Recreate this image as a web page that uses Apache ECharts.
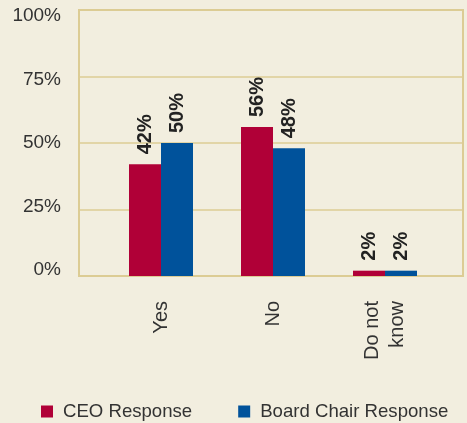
<!DOCTYPE html>
<html>
<head>
<meta charset="utf-8">
<script src="https://cdn.jsdelivr.net/npm/echarts@6/dist/echarts.min.js"></script>
<style>
  html, body { margin: 0; padding: 0; background: #f2eedf; }
  #main { width: 467px; height: 423px; }
</style>
</head>
<body>
<div id="main"></div>
<script>
var categories = ['Yes', 'No', 'Do not\nknow'];
var ceoValues = [42, 56, 2];
var boardValues = [50, 48, 2];
var yTicks = [0, 25, 50, 75, 100];

var font = 'Liberation Sans, Arial, sans-serif';
var frameColor = '#dccc94';

var myChart = echarts.init(document.getElementById('main'));

var barLabel = {
  show: true,
  position: 'top',
  distance: 10,
  rotate: 90,
  align: 'left',
  verticalAlign: 'middle',
  fontFamily: font,
  fontSize: 20,
  fontWeight: 'bold',
  color: '#222',
  formatter: '{c}%'
};

var option = {
  backgroundColor: '#f2eedf',
  animation: false,
  grid: [
    // frame with gridlines
    { left: 79, right: 4, top: 10, bottom: 147, show: true, borderColor: frameColor, borderWidth: 2, backgroundColor: 'transparent' },
    // bars
    { left: 105, right: 26, top: 10, bottom: 147 },
    // y tick labels
    { left: 79, right: 4, top: 16, bottom: 153 }
  ],
  legend: {
    left: 36,
    top: 397,
    itemWidth: 12,
    itemHeight: 12,
    itemGap: 46,
    icon: 'rect',
    textStyle: { fontFamily: font, fontSize: 18.6, color: '#333', padding: [0, 0, 0, 5] },
    data: ['CEO Response', 'Board Chair Response']
  },
  xAxis: [
    { gridIndex: 0, type: 'value', show: false, min: 0, max: 1 },
    {
      gridIndex: 1,
      type: 'category',
      data: categories,
      axisLine: { show: false },
      axisTick: { show: false },
      axisLabel: {
        rotate: 90,
        margin: 25,
        fontFamily: font,
        fontSize: 20,
        lineHeight: 25,
        color: '#333',
        interval: 0
      }
    },
    { gridIndex: 2, type: 'value', show: false, min: 0, max: 1 }
  ],
  yAxis: [
    {
      gridIndex: 0,
      type: 'value',
      min: 0,
      max: 100,
      interval: 25,
      axisLine: { show: false },
      axisTick: { show: false },
      axisLabel: { show: false },
      splitLine: { lineStyle: { color: frameColor, width: 1.5 } }
    },
    { gridIndex: 1, type: 'value', min: 0, max: 100, show: false },
    {
      gridIndex: 2,
      type: 'value',
      min: yTicks[0],
      max: yTicks[yTicks.length - 1],
      interval: 25,
      axisLine: { show: false },
      axisTick: { show: false },
      splitLine: { show: false },
      axisLabel: {
        margin: 18,
        fontFamily: font,
        fontSize: 19,
        color: '#333',
        formatter: '{value}%'
      }
    }
  ],
  series: [
    {
      name: 'CEO Response',
      type: 'bar',
      xAxisIndex: 1,
      yAxisIndex: 1,
      barWidth: 32,
      barGap: '0%',
      itemStyle: { color: '#b00037' },
      label: barLabel,
      data: ceoValues
    },
    {
      name: 'Board Chair Response',
      type: 'bar',
      xAxisIndex: 1,
      yAxisIndex: 1,
      barWidth: 32,
      barGap: '0%',
      itemStyle: { color: '#00529b' },
      label: barLabel,
      data: boardValues
    }
  ]
};
myChart.setOption(option);
</script>
</body>
</html>
